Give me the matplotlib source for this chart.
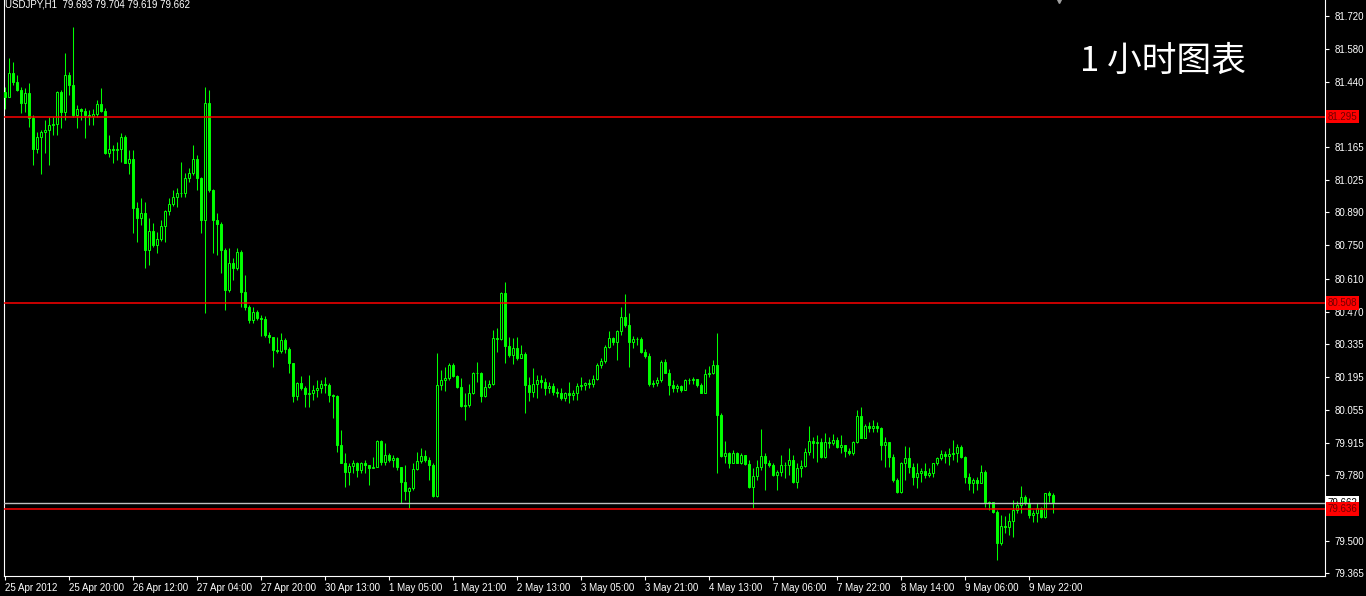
import matplotlib.pyplot as plt
from matplotlib import transforms

# USDJPY H1 bars (open = previous close)
first_open = 81.400

close = [
    81.379, 81.477, 81.442, 81.407, 81.351, 81.393, 81.287, 81.156, 81.210, 81.228,
    81.238, 81.259, 81.262, 81.400, 81.315, 81.470, 81.428, 81.301, 81.325, 81.320,
    81.301, 81.297, 81.304, 81.346, 81.320, 81.139, 81.156, 81.153, 81.156, 81.207,
    81.100, 81.114, 80.907, 80.865, 80.886, 80.731, 80.813, 80.752, 80.776, 80.832,
    80.896, 80.925, 80.953, 80.973, 80.970, 81.037, 81.055, 81.114, 81.034, 80.858,
    81.351, 80.985, 80.858, 80.841, 80.731, 80.562, 80.674, 80.653, 80.724, 80.555,
    80.491, 80.435, 80.470, 80.445, 80.437, 80.371, 80.361, 80.308, 80.305, 80.350,
    80.311, 80.251, 80.113, 80.170, 80.146, 80.122, 80.124, 80.139, 80.146, 80.164,
    80.160, 80.117, 80.113, 79.906, 79.829, 79.793, 79.819, 79.829, 79.800, 79.829,
    79.822, 79.810, 79.815, 79.923, 79.836, 79.864, 79.843, 79.850, 79.812, 79.751,
    79.713, 79.723, 79.803, 79.839, 79.860, 79.843, 79.822, 79.691, 80.160, 80.181,
    80.188, 80.244, 80.198, 80.153, 80.071, 80.075, 80.125, 80.209, 80.212, 80.113,
    80.150, 80.164, 80.357, 80.353, 80.547, 80.325, 80.287, 80.315, 80.273, 80.291,
    80.160, 80.132, 80.164, 80.181, 80.174, 80.146, 80.156, 80.132, 80.125, 80.104,
    80.125, 80.118, 80.125, 80.156, 80.160, 80.170, 80.164, 80.184, 80.245, 80.262,
    80.322, 80.357, 80.343, 80.386, 80.449, 80.414, 80.343, 80.353, 80.356, 80.301,
    80.283, 80.164, 80.167, 80.181, 80.259, 80.212, 80.160, 80.146, 80.156, 80.139,
    80.179, 80.181, 80.184, 80.160, 80.128, 80.207, 80.212, 80.245, 80.033, 79.860,
    79.874, 79.829, 79.874, 79.832, 79.864, 79.826, 79.730, 79.773, 79.815, 79.860,
    79.829, 79.822, 79.780, 79.790, 79.822, 79.822, 79.843, 79.751, 79.810, 79.819,
    79.878, 79.923, 79.913, 79.920, 79.857, 79.920, 79.913, 79.927, 79.899, 79.906,
    79.881, 79.871, 79.920, 80.029, 79.937, 79.988, 79.977, 79.988, 79.979, 79.906,
    79.920, 79.857, 79.758, 79.706, 79.829, 79.850, 79.812, 79.772, 79.786, 79.798,
    79.779, 79.786, 79.829, 79.850, 79.868, 79.860, 79.868, 79.874, 79.899, 79.857,
    79.772, 79.747, 79.758, 79.744, 79.793, 79.662, 79.667, 79.624, 79.490, 79.564,
    79.561, 79.586, 79.631, 79.652, 79.688, 79.662, 79.610, 79.617, 79.638, 79.600,
    79.702, 79.693, 79.662,
]

high = [
    81.421, 81.541, 81.527, 81.470, 81.421, 81.414, 81.438, 81.301, 81.231, 81.238,
    81.280, 81.294, 81.294, 81.404, 81.407, 81.562, 81.484, 81.675, 81.344, 81.329,
    81.329, 81.322, 81.325, 81.365, 81.414, 81.329, 81.217, 81.175, 81.189, 81.224,
    81.217, 81.153, 81.153, 80.935, 80.949, 80.935, 80.865, 80.844, 80.808, 80.858,
    80.900, 80.949, 80.984, 80.992, 81.104, 81.055, 81.076, 81.175, 81.132, 81.041,
    81.421, 81.407, 80.987, 80.886, 80.851, 80.738, 80.738, 80.696, 80.738, 80.731,
    80.625, 80.498, 80.491, 80.475, 80.456, 80.451, 80.385, 80.308, 80.364, 80.378,
    80.357, 80.322, 80.251, 80.174, 80.198, 80.156, 80.202, 80.160, 80.181, 80.181,
    80.192, 80.170, 80.122, 80.116, 79.970, 79.874, 79.829, 79.843, 79.836, 79.836,
    79.843, 79.822, 79.857, 79.927, 79.927, 79.913, 79.871, 79.864, 79.857, 79.803,
    79.822, 79.730, 79.829, 79.878, 79.892, 79.885, 79.854, 79.829, 80.297, 80.223,
    80.237, 80.251, 80.251, 80.202, 80.188, 80.125, 80.164, 80.216, 80.259, 80.216,
    80.181, 80.181, 80.392, 80.399, 80.554, 80.597, 80.364, 80.357, 80.364, 80.329,
    80.301, 80.195, 80.231, 80.202, 80.202, 80.188, 80.174, 80.167, 80.146, 80.146,
    80.132, 80.174, 80.139, 80.167, 80.195, 80.174, 80.184, 80.202, 80.252, 80.273,
    80.329, 80.386, 80.364, 80.393, 80.491, 80.545, 80.463, 80.367, 80.364, 80.362,
    80.311, 80.294, 80.181, 80.195, 80.266, 80.269, 80.226, 80.181, 80.164, 80.160,
    80.184, 80.188, 80.193, 80.181, 80.167, 80.226, 80.238, 80.266, 80.379, 80.040,
    79.921, 79.878, 79.883, 79.878, 79.874, 79.864, 79.843, 79.808, 79.843, 79.973,
    79.871, 79.843, 79.829, 79.801, 79.864, 79.836, 79.892, 79.864, 79.829, 79.843,
    79.892, 79.988, 79.941, 79.948, 79.934, 79.955, 79.941, 79.951, 79.941, 79.948,
    79.906, 79.892, 79.923, 80.054, 80.068, 79.993, 80.005, 80.012, 80.005, 79.984,
    79.941, 79.920, 79.867, 79.765, 79.836, 79.903, 79.899, 79.829, 79.829, 79.807,
    79.831, 79.807, 79.831, 79.857, 79.885, 79.882, 79.892, 79.927, 79.910, 79.906,
    79.860, 79.786, 79.765, 79.772, 79.822, 79.800, 79.671, 79.667, 79.631, 79.610,
    79.606, 79.617, 79.674, 79.671, 79.733, 79.695, 79.681, 79.631, 79.659, 79.643,
    79.705, 79.713, 79.704,
]

low = [
    81.325, 81.379, 81.428, 81.404, 81.308, 81.315, 81.252, 81.090, 81.139, 81.054,
    81.139, 81.090, 81.217, 81.217, 81.245, 81.280, 81.386, 81.294, 81.245, 81.280,
    81.203, 81.259, 81.259, 81.294, 81.315, 81.136, 81.125, 81.097, 81.111, 81.104,
    81.097, 81.054, 80.801, 80.766, 80.837, 80.653, 80.667, 80.745, 80.717, 80.770,
    80.766, 80.879, 80.917, 80.914, 80.956, 80.956, 81.020, 81.048, 80.984, 80.801,
    80.463, 80.977, 80.717, 80.710, 80.632, 80.477, 80.555, 80.604, 80.646, 80.491,
    80.477, 80.421, 80.421, 80.435, 80.367, 80.364, 80.336, 80.237, 80.294, 80.294,
    80.294, 80.209, 80.089, 80.096, 80.139, 80.068, 80.068, 80.096, 80.110, 80.124,
    80.124, 80.089, 80.019, 79.878, 79.829, 79.730, 79.737, 79.786, 79.772, 79.786,
    79.786, 79.737, 79.808, 79.812, 79.822, 79.822, 79.836, 79.815, 79.801, 79.660,
    79.674, 79.639, 79.716, 79.801, 79.832, 79.836, 79.758, 79.688, 79.688, 80.139,
    80.136, 80.181, 80.195, 80.146, 80.068, 80.012, 80.068, 80.122, 80.174, 80.089,
    80.111, 80.146, 80.160, 80.301, 80.350, 80.251, 80.280, 80.249, 80.266, 80.273,
    80.040, 80.090, 80.111, 80.104, 80.146, 80.118, 80.125, 80.118, 80.111, 80.097,
    80.090, 80.083, 80.097, 80.097, 80.139, 80.139, 80.146, 80.153, 80.181, 80.231,
    80.252, 80.315, 80.329, 80.266, 80.371, 80.407, 80.235, 80.315, 80.329, 80.297,
    80.273, 80.156, 80.153, 80.156, 80.174, 80.210, 80.118, 80.132, 80.132, 80.132,
    80.139, 80.164, 80.164, 80.153, 80.125, 80.125, 80.195, 80.207, 79.787, 79.857,
    79.829, 79.808, 79.829, 79.829, 79.826, 79.822, 79.723, 79.639, 79.759, 79.801,
    79.716, 79.815, 79.773, 79.716, 79.773, 79.765, 79.779, 79.744, 79.723, 79.772,
    79.815, 79.864, 79.850, 79.836, 79.850, 79.850, 79.892, 79.906, 79.892, 79.871,
    79.857, 79.864, 79.864, 79.913, 79.934, 79.934, 79.962, 79.962, 79.962, 79.843,
    79.815, 79.815, 79.751, 79.702, 79.702, 79.758, 79.786, 79.737, 79.723, 79.751,
    79.765, 79.772, 79.772, 79.822, 79.843, 79.829, 79.822, 79.843, 79.836, 79.850,
    79.744, 79.716, 79.702, 79.716, 79.744, 79.643, 79.631, 79.617, 79.420, 79.483,
    79.533, 79.526, 79.519, 79.617, 79.620, 79.652, 79.596, 79.582, 79.582, 79.596,
    79.596, 79.667, 79.619,
]

time_labels = ["25 Apr 2012", "25 Apr 20:00", "26 Apr 12:00", "27 Apr 04:00",
               "27 Apr 20:00", "30 Apr 13:00", "1 May 05:00", "1 May 21:00",
               "2 May 13:00", "3 May 05:00", "3 May 21:00", "4 May 13:00",
               "7 May 06:00", "7 May 22:00", "8 May 14:00", "9 May 06:00",
               "9 May 22:00"]
bars_per_label = 16

# the 81.305 and 79.640 ticks sit under the line tags, so their text is blank
price_ticks = [81.720, 81.580, 81.440, 81.305, 81.165, 81.025, 80.890, 80.750,
               80.610, 80.470, 80.335, 80.195, 80.055, 79.915, 79.780, 79.640,
               79.500, 79.365]
hidden_ticks = [81.305, 79.640]

red_levels = [81.295, 80.508, 79.636]
bid = 79.662
header = "USDJPY,H1  79.693 79.704 79.619 79.662"
caption = "1 小时图表"

LIME = "#00FF00"

opens = [first_open] + close[:-1]
n = len(close)
xs = list(range(n))

fig = plt.figure(figsize=(13.66, 5.96), dpi=100, facecolor="black")
ax = fig.add_axes([4 / 1366, 20 / 596, 1321 / 1366, 576 / 596], facecolor="black")

# wicks behind the bodies
hi = [max(h, o, c) for h, o, c in zip(high, opens, close)]
lo = [min(l, o, c) for l, o, c in zip(low, opens, close)]
ax.vlines(xs, lo, hi, color=LIME, linewidth=0.75, zorder=2)

bottoms = [min(o, c) for o, c in zip(opens, close)]
heights = [max(abs(c - o), 0.0008) for o, c in zip(opens, close)]
faces = ["black" if c > o else LIME for o, c in zip(opens, close)]
ax.bar(xs, heights, bottom=bottoms, width=0.72, color=faces, edgecolor=LIME,
       linewidth=0.7, zorder=3)

for lvl in red_levels:
    ax.axhline(lvl, color="#FF0000", linewidth=1.1, zorder=4)
ax.axhline(bid, color="#C0C0C0", linewidth=1.0, zorder=4)

ax.set_xlim(-0.25, -0.25 + 1321 / 4)
ax.set_ylim(81.720 - 560 / 236.5, 81.720 + 16 / 236.5)

ax.yaxis.tick_right()
ax.set_yticks(price_ticks)
ax.set_yticklabels(["" if v in hidden_ticks else f"{v:.3f}" for v in price_ticks])
ax.set_xticks([i * bars_per_label for i in range(len(time_labels))])
ax.set_xticklabels(time_labels, ha="left")
ax.tick_params(colors="white", labelcolor="white", labelsize=7, length=3, width=0.8)
ax.tick_params(axis="y", pad=4)
ax.tick_params(axis="x", pad=2)
for lab in ax.get_xticklabels() + ax.get_yticklabels():
    lab.set_fontfamily("Liberation Sans")

for side in ["left", "right", "bottom"]:
    ax.spines[side].set_color("white")
    ax.spines[side].set_linewidth(0.8)
ax.spines["top"].set_visible(False)

# price tags on the right axis (bid tag first, red tags drawn over it)
trans = transforms.blended_transform_factory(ax.transAxes, ax.transData)
ax.text(1.002, bid, f"{bid:.3f}", transform=trans, fontsize=7, color="black",
        family="Liberation Sans", va="center", ha="left", zorder=9, clip_on=False,
        bbox=dict(boxstyle="square,pad=0.2", facecolor="white", edgecolor="none"))
for lvl in red_levels:
    ax.text(1.002, lvl, f"{lvl:.3f}", transform=trans, fontsize=7, color="#700000",
            family="Liberation Sans", va="center", ha="left", zorder=10, clip_on=False,
            bbox=dict(boxstyle="square,pad=0.2", facecolor="#FF0000", edgecolor="none"))

ax.text(0.001, 0.992, header, transform=ax.transAxes, color="white", fontsize=7,
        family="Liberation Sans", va="center", ha="left")
ax.text(0.8145, 0.894, caption, transform=ax.transAxes, color="white", fontsize=25,
        family=["Noto Sans CJK SC", "DejaVu Sans"], va="center", ha="left")

# chart shift marker
ax.plot([n + 0.5], [ax.get_ylim()[1]], marker="v", color="#A0A0A0", markersize=5,
        clip_on=False, zorder=10)

fig.savefig("out.png", dpi=100, facecolor="black")
